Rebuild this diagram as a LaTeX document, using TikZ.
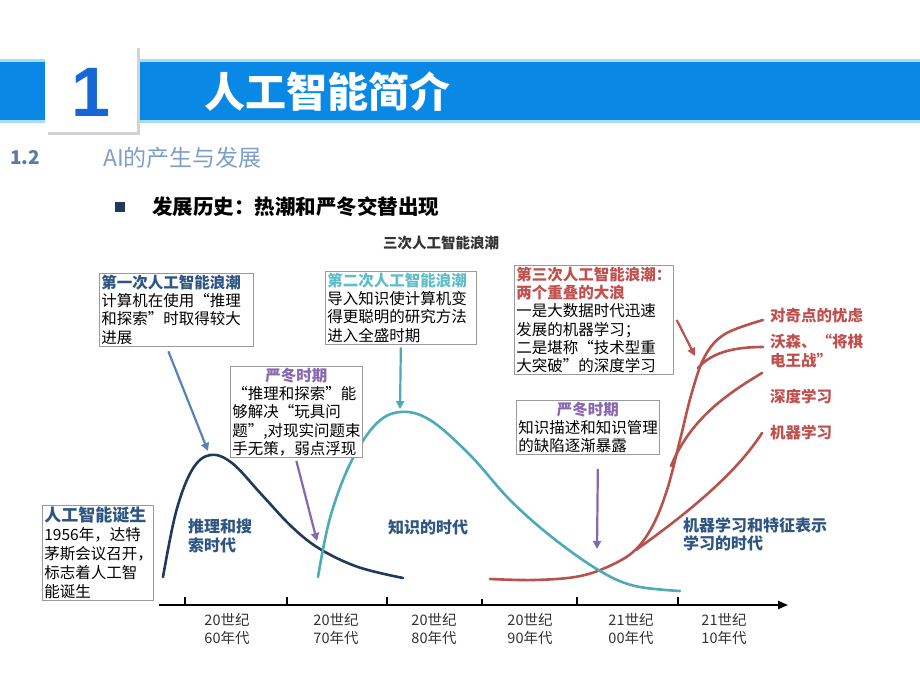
\documentclass[tikz,border=0pt]{standalone}
\usepackage{fontspec}
\setmainfont{Noto Sans CJK SC}
\newfontfamily\numfont{Liberation Sans}
\usetikzlibrary{arrows.meta,positioning}
\definecolor{barra}{HTML}{0A88E6}
\definecolor{brillo}{HTML}{A6DCF6}
\definecolor{uno}{HTML}{1766D6}
\definecolor{secc}{HTML}{5B7BA6}
\definecolor{seccclaro}{HTML}{7EA0C8}
\definecolor{borde}{HTML}{9A9A9A}
\definecolor{marino}{HTML}{203A5C}
\definecolor{acero}{HTML}{5A83B5}
\definecolor{cian}{HTML}{4DAAB8}
\definecolor{cianclaro}{HTML}{5FBDCC}
\definecolor{morado}{HTML}{8767B0}
\definecolor{rojo}{HTML}{B8524D}
\definecolor{rojotxt}{HTML}{C0504D}
\definecolor{azultxt}{HTML}{2F5582}
\definecolor{gristxt}{HTML}{333333}

\begin{document}
\begin{tikzpicture}[
    x=1pt, y=-1pt,
    font=\fontsize{15.5}{18.3}\selectfont,
    arr/.style={-{Triangle[length=8pt, width=8pt]}, line width=2.2pt},
    caja/.style={
      draw=borde, line width=0.7pt, fill=white, anchor=north west,
      align=left, inner xsep=2pt, inner ysep=1.5pt
    },
    curva/.style={line width=2.6pt, line cap=round},
    era/.style={
      font=\fontsize{16}{18.5}\selectfont\bfseries, text=azultxt,
      align=left, inner sep=0pt
    },
    rama/.style={
      font=\fontsize{15.5}{18.5}\selectfont\bfseries, text=rojotxt,
      align=left, inner sep=0pt
    },
    decada/.style={
      font=\fontsize{14.5}{18}\selectfont, text=gristxt,
      align=center, inner sep=0pt
    },
    marca/.style={line width=1.6pt}
  ]
    \useasboundingbox (0,0) rectangle (920,690);
    \fill[white] (0,0) rectangle (920,690);

    % --- Cabecera ---
    \fill[brillo] (0,59) rectangle (920,123);
    \fill[barra] (0,62) rectangle (920,120);
    \fill[gray!35] (48,48) rectangle (140,135);
    \fill[white] (45,45) rectangle (137,132);
    \node[font=\numfont\fontsize{70}{70}\selectfont\bfseries, text=uno]
      (num) at (91,92) {1};
    \node[font=\fontsize{41}{41}\selectfont\bfseries, text=white,
      anchor=west, inner sep=0pt] (titulo) at (204,92) {人工智能简介};
    \node[font=\fontsize{19}{19}\selectfont\bfseries, text=secc,
      anchor=west, inner sep=0pt] (secnum) at (10,158) {1.2};
    \node[font=\fontsize{23}{23}\selectfont, text=seccclaro,
      anchor=west, inner sep=0pt] (secnom) at (103,158) {AI的产生与发展};
    \fill[marino] (115,202) rectangle (125,212);
    \node[font=\fontsize{20.5}{20.5}\selectfont\bfseries, anchor=west,
      inner sep=0pt] (punto) at (152,207) {发展历史：热潮和严冬交替出现};
    \node[font=\fontsize{14.5}{14.5}\selectfont\bfseries, text=gristxt,
      inner sep=0pt] (olas) at (441,243) {三次人工智能浪潮};

    % --- Curvas ---
    \draw[curva, marino] plot[smooth, tension=0.6] coordinates {
      (163,577) (176,512) (192,470) (210,455) (232,463) (262,495)
      (292,527) (320,549) (358,567) (403,578)};
    \draw[curva, rojo] plot[smooth, tension=0.6] coordinates {
      (490,579) (533,580) (575,577) (605,568) (633,552) (652,527)
      (667,490) (680,440) (692,392) (705,356) (725,334) (763,320)};
    \draw[curva, rojo] (698,368) .. controls (712,352) and (735,347) .. (763,347);
    \draw[curva, rojo] (671,466) .. controls (690,420) and (725,395) .. (762,373);
    \draw[curva, rojo] (636,550) .. controls (672,524) and (732,480) .. (762,433);
    \draw[curva, cian] plot[smooth, tension=0.6] coordinates {
      (318,577) (330,518) (350,464) (375,425) (400,412) (430,420)
      (470,455) (510,500) (553,538) (600,571) (635,586) (680,591)};

    \coordinate (cima1) at (208,451);
    \coordinate (valle1) at (317,541);
    \coordinate (cima2) at (400,409);
    \coordinate (valle2) at (597,549);
    \coordinate (brote) at (695,356);

    % --- Cuadros de texto ---
    \node[caja, text width=150pt] (ola1) at (99,273)
      {\textbf{\color{azultxt}第一次人工智能浪潮}\\
       计算机在使用“推理\\和探索”时取得较大\\进展};
    \node[caja, text width=128pt] (invierno1) at (230,366)
      {\makebox[\linewidth]{\textbf{\color{morado}严冬时期}}\\
       “推理和探索”能\\够解决“玩具问\\题”,对现实问题束\\手无策，弱点浮现};
    \node[caja, text width=147pt] (ola2) at (325,271)
      {\textbf{\color{cianclaro}第二次人工智能浪潮}\\
       导入知识使计算机变\\得更聪明的研究方法\\进入全盛时期};
    \node[caja, text width=155pt] (ola3) at (514,265)
      {\textbf{\color{rojotxt}第三次人工智能浪潮：}\\
       \textbf{\color{rojotxt}两个重叠的大浪}\\
       一是大数据时代迅速\\发展的机器学习；\\二是堪称“技术型重\\大突破”的深度学习};
    \node[caja, text width=139pt] (invierno2) at (516,400)
      {\makebox[\linewidth]{\textbf{\color{morado}严冬时期}}\\
       知识描述和知识管理\\的缺陷逐渐暴露};
    \node[caja, text width=107pt, font=\fontsize{15.5}{19}\selectfont]
      (nacimiento) at (42,505)
      {\textbf{\color{azultxt}\fontsize{17}{19}\selectfont 人工智能诞生}\\
       1956年，达特\\茅斯会议召开，\\标志着人工智\\能诞生};

    % --- Etiquetas de las eras ---
    \node[era, anchor=north west] (era1) at (188,519) {推理和搜\\索时代};
    \node[era, anchor=west] (era2) at (388,527) {知识的时代};
    \node[era, anchor=north west] (era3) at (683,517)
      {机器学习和特征表示\\学习的时代};
    \node[rama, anchor=west] (rama1) at (770,316) {对奇点的忧虑};
    \node[rama, anchor=north west] (rama2) at (770,334) {沃森、“将棋\\电王战”};
    \node[rama, anchor=west] (rama3) at (770,397) {深度学习};
    \node[rama, anchor=west] (rama4) at (770,433) {机器学习};

    % --- Eje temporal ---
    \coordinate (ejeA) at (159,605);
    \coordinate (ejeB) at (788,605);
    \draw[-{Triangle[length=10pt, width=8pt]}, line width=2pt] (ejeA) -- (ejeB);
    \draw[marca] (185,597) -- (185,606);
    \draw[marca] (287,597) -- (287,606);
    \draw[marca] (387,597) -- (387,606);
    \draw[marca] (482,599) -- (482,606);
    \draw[marca] (577,597) -- (577,606);
    \draw[marca] (678,597) -- (678,606);
    \node[decada] (d60) at (227,629) {20世纪\\60年代};
    \node[decada] (d70) at (336,629) {20世纪\\70年代};
    \node[decada] (d80) at (434,629) {20世纪\\80年代};
    \node[decada] (d90) at (530,629) {20世纪\\90年代};
    \node[decada] (d00) at (631,629) {21世纪\\00年代};
    \node[decada] (d10) at (724,629) {21世纪\\10年代};

    % --- Flechas ---
    \draw[arr, acero] ([xshift=-8pt, yshift=-5pt]ola1.south) -- (cima1);
    \draw[arr, morado] ([yshift=-3pt]invierno1.south) -- (valle1);
    \draw[arr, cian] ([yshift=-3pt]ola2.south) -- (cima2);
    \draw[arr, morado] ([xshift=10pt, yshift=-14pt]invierno2.south) -- (valle2);
    \draw[arr, rojo] ([xshift=3pt]ola3.east) -- (brote);
  \end{tikzpicture}
\end{document}
